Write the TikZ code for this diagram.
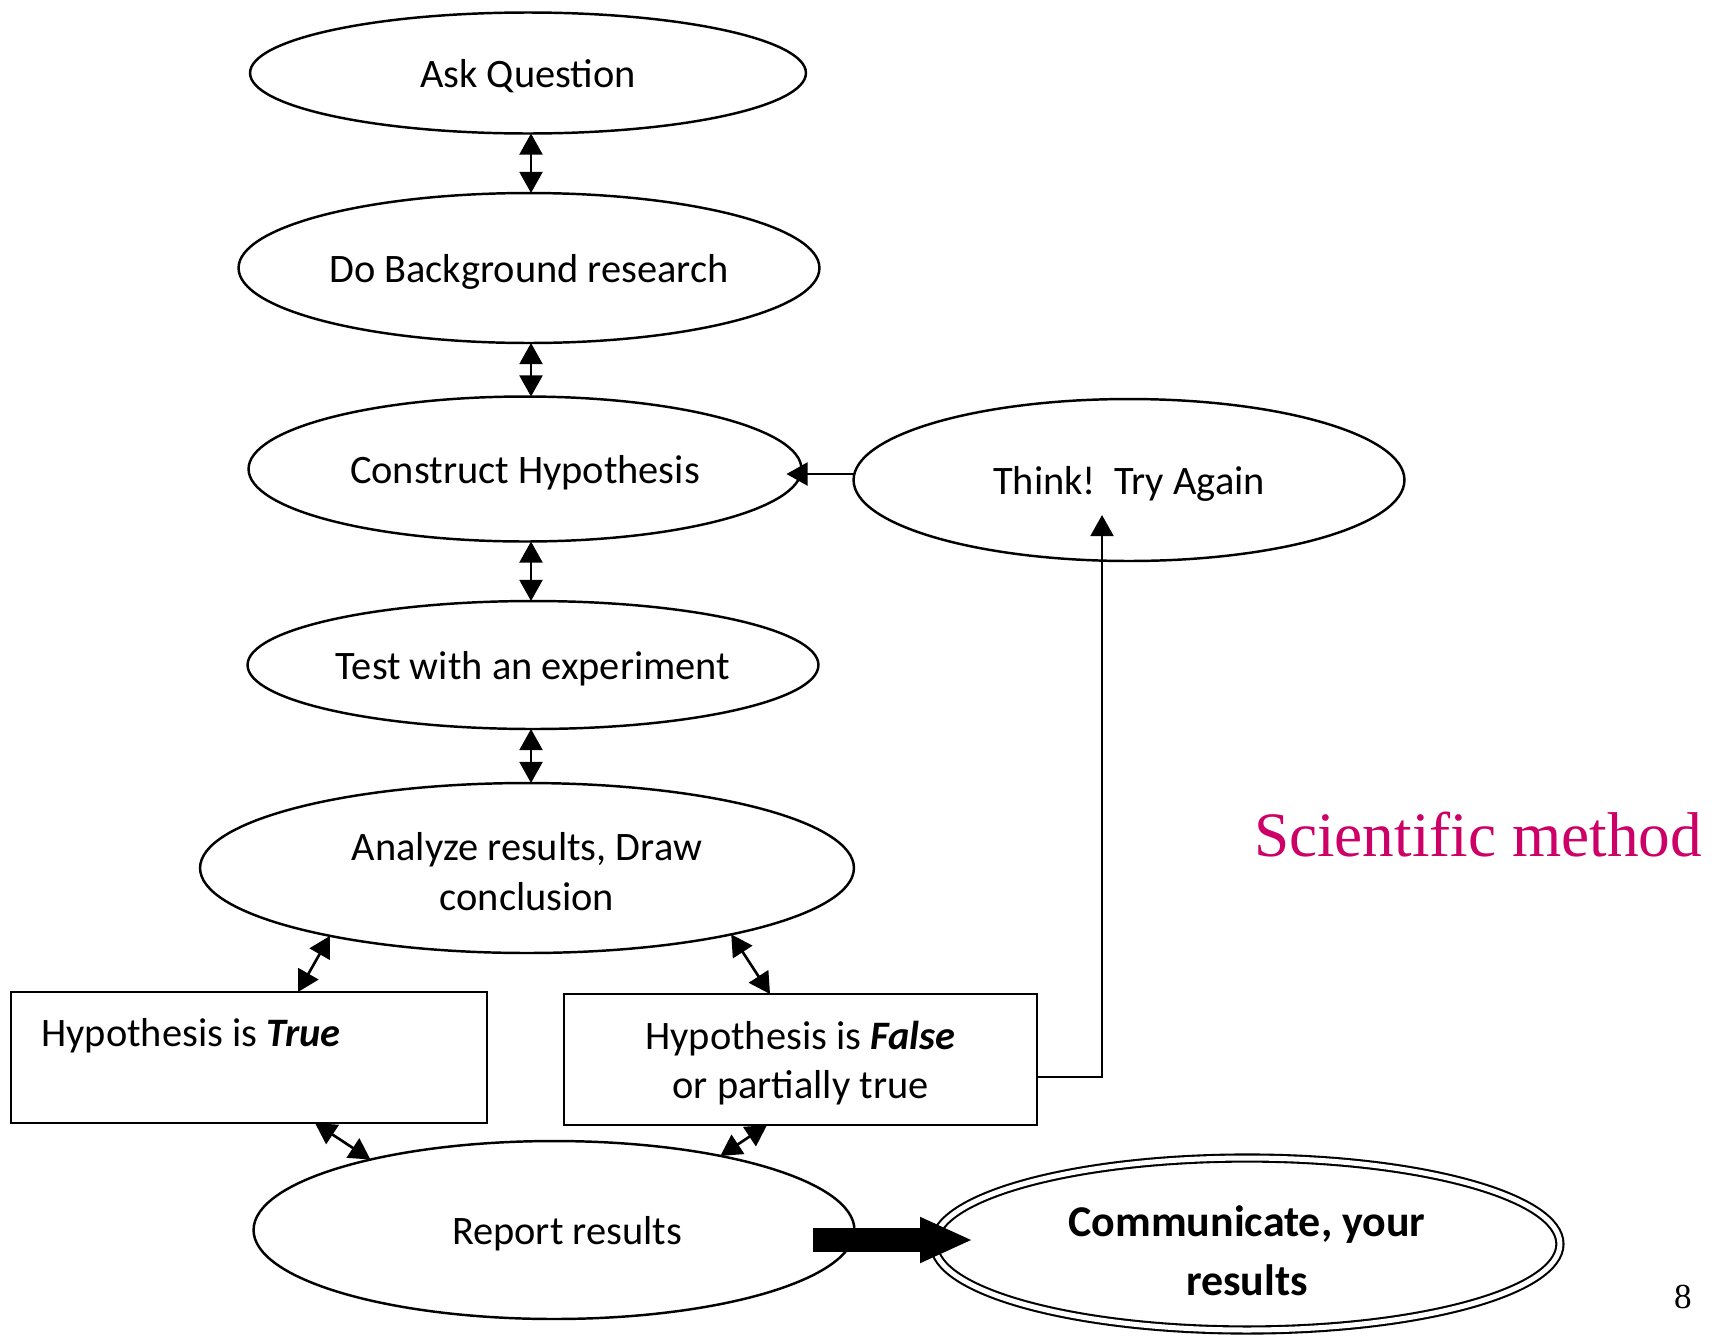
\documentclass[tikz,border=0pt]{standalone}
\usepackage{fontspec}
\setmainfont{Carlito}
\newfontfamily\tnr{Liberation Serif}
\usetikzlibrary{shapes.geometric,arrows.meta}
\definecolor{mag}{RGB}{204,0,102}
\begin{document}
\begin{tikzpicture}[x=0.02cm,y=-0.02cm,
 ell/.style={ellipse,draw,line width=1.4pt,inner sep=0pt,outer sep=0pt,align=center,font=\fontsize{23}{28}\selectfont},
 one/.style={text height=21pt,text depth=4.6pt},
 box/.style={rectangle,draw,line width=1.4pt,inner sep=0pt,outer sep=0pt,align=center,font=\fontsize{23}{28}\selectfont},
 dbl/.style={line width=1.5pt,{Triangle[length=12pt,width=13pt]}-{Triangle[length=12pt,width=13pt]}},
 sgl/.style={line width=1.5pt,-{Triangle[length=12pt,width=13pt]}},
 txt/.style={font=\fontsize{23}{28}\selectfont,inner sep=0pt}]
\useasboundingbox (0,0) rectangle (1719,1339);

\node[ell,one,minimum width=11.12cm,minimum height=2.42cm] (ask) at (528,73) {Ask Question};
\node[ell,one,minimum width=11.62cm,minimum height=3.0cm] (bg) at (529,268) {Do Background research};
\node[ell,one,minimum width=11.06cm,minimum height=2.9cm] (co) at (525,469) {Construct Hypothesis};
\node[ell,one,minimum width=11.42cm,minimum height=2.56cm] (te) at (533,665) {Test with an experiment};
\node[ell,minimum width=13.08cm,minimum height=3.4cm] (an) at (527,868) {\rule{0pt}{20pt}Analyze results, Draw\\conclusion};
\node[ell,one,minimum width=11.02cm,minimum height=3.24cm] (th) at (1129,480) {Think!\ \ Try Again};
\node[ell,one,minimum width=12.02cm,minimum height=3.56cm] (rep) at (554,1230) {\hspace*{0.52cm}Report results};
\node[ell,double,double distance=0.1cm,line width=1.2pt,minimum width=12.52cm,minimum height=3.44cm,
      font=\bfseries\fontsize{25}{33.5}\selectfont] (comm) at (1247,1244) {\rule{0pt}{25pt}Communicate, your\\results};

\node[box,minimum width=9.52cm,minimum height=2.62cm] (tr) at (249,1057.5) {};
\node[txt,anchor=west] (trt) at (41,1036) {Hypothesis is \textbf{\textit{True}}};
\node[box,minimum width=9.46cm,minimum height=2.62cm] (fa) at (800.5,1059.5) {\rule{0pt}{20pt}Hypothesis is \textbf{\textit{False}}\\or partially true};

\coordinate (vx) at (531,0);
\draw[dbl] (ask.south -| vx) -- (bg.north -| vx);
\draw[dbl] (bg.south -| vx) -- (co.north -| vx);
\draw[dbl] (co.south -| vx) -- (te.north -| vx);
\draw[dbl] (te.south -| vx) -- (an.north -| vx);

\draw[dbl] (an.199) -- ([xshift=5.74cm]tr.north west);
\draw[dbl] (an.342) -- ([xshift=4.12cm]fa.north west);
\draw[dbl] ([xshift=6.08cm]tr.south west) -- (rep.159);
\draw[dbl] ([xshift=4.06cm]fa.south west) -- (rep.24);

\coordinate (tw) at ([yshift=0.12cm]th.west);
\draw[sgl] (tw) -- ([xshift=-0.3cm]tw -| co.east);
\draw[sgl] ([yshift=-0.35cm]fa.east) -| ([xshift=-0.54cm,yshift=0.92cm]th.south);

\coordinate (ts) at ([xshift=-0.83cm,yshift=-0.2cm]rep.east);
\coordinate (tx) at ([xshift=0.78cm]comm.west);
\draw[line width=0.48cm,-{Triangle[length={1.06cm 0},width={0.84cm 0}]}] (ts) -- (ts -| tx);

\node[font=\tnr\fontsize{36}{40}\selectfont,text=mag,inner sep=0pt] (title) at (1478,835) {Scientific method};
\node[font=\tnr\fontsize{20}{24}\selectfont,inner sep=0pt] (pg) at (1683,1297) {8};
\end{tikzpicture}
\end{document}
